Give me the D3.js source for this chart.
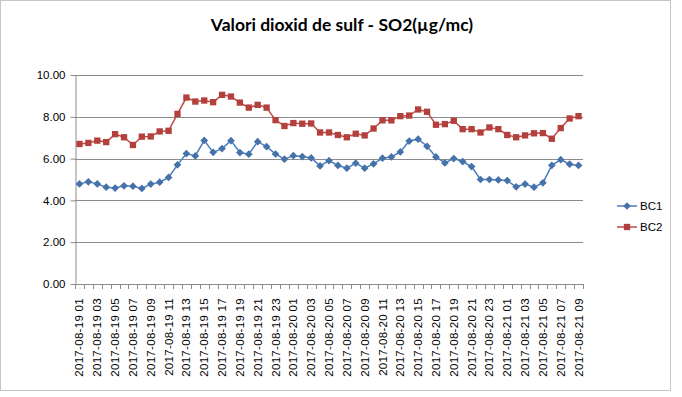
<!DOCTYPE html>
<html>
<head>
<meta charset="utf-8">
<script src="https://cdn.jsdelivr.net/npm/d3@7"></script>
<style>
body { margin: 0; background: #fff; }
svg text { font-family: "Liberation Sans", Arial, sans-serif; fill: #000; }
.title { font-family: Lato, "Open Sans", sans-serif; font-weight: bold; }
</style>
</head>
<body>
<div id="chart"></div>
<script>
// hourly categories, only every other one gets a label
var categories = [
    "2017-08-19 01", "2017-08-19 02", "2017-08-19 03", "2017-08-19 04", "2017-08-19 05", "2017-08-19 06",
    "2017-08-19 07", "2017-08-19 08", "2017-08-19 09", "2017-08-19 10", "2017-08-19 11", "2017-08-19 12",
    "2017-08-19 13", "2017-08-19 14", "2017-08-19 15", "2017-08-19 16", "2017-08-19 17", "2017-08-19 18",
    "2017-08-19 19", "2017-08-19 20", "2017-08-19 21", "2017-08-19 22", "2017-08-19 23", "2017-08-20 00",
    "2017-08-20 01", "2017-08-20 02", "2017-08-20 03", "2017-08-20 04", "2017-08-20 05", "2017-08-20 06",
    "2017-08-20 07", "2017-08-20 08", "2017-08-20 09", "2017-08-20 10", "2017-08-20 11", "2017-08-20 12",
    "2017-08-20 13", "2017-08-20 14", "2017-08-20 15", "2017-08-20 16", "2017-08-20 17", "2017-08-20 18",
    "2017-08-20 19", "2017-08-20 20", "2017-08-20 21", "2017-08-20 22", "2017-08-20 23", "2017-08-21 00",
    "2017-08-21 01", "2017-08-21 02", "2017-08-21 03", "2017-08-21 04", "2017-08-21 05", "2017-08-21 06",
    "2017-08-21 07", "2017-08-21 08", "2017-08-21 09"
];

var bc1 = [
    4.79, 4.89, 4.79, 4.63, 4.59, 4.70, 4.68, 4.57, 4.78, 4.87, 5.10, 5.70,
    6.24, 6.13, 6.87, 6.30, 6.48, 6.86, 6.29, 6.21, 6.81, 6.57, 6.22, 5.97,
    6.14, 6.10, 6.03, 5.65, 5.90, 5.67, 5.54, 5.78, 5.54, 5.75, 6.02, 6.08,
    6.32, 6.84, 6.93, 6.59, 6.08, 5.79, 6.00, 5.86, 5.62, 5.00, 5.00, 4.98,
    4.95, 4.65, 4.78, 4.63, 4.84, 5.68, 5.95, 5.73, 5.67
];

var bc2 = [
    6.70, 6.75, 6.86, 6.79, 7.17, 7.02, 6.65, 7.05, 7.06, 7.30, 7.33, 8.14,
    8.92, 8.73, 8.78, 8.70, 9.05, 8.97, 8.68, 8.44, 8.57, 8.44, 7.84, 7.56,
    7.70, 7.67, 7.68, 7.25, 7.25, 7.13, 7.02, 7.19, 7.11, 7.44, 7.83, 7.83,
    8.03, 8.06, 8.35, 8.24, 7.62, 7.65, 7.81, 7.41, 7.41, 7.25, 7.49, 7.41,
    7.13, 7.02, 7.11, 7.21, 7.22, 6.95, 7.46, 7.92, 8.03
];

var seriesNames = ["BC1", "BC2"];
var yTicks = [0, 2, 4, 6, 8, 10];

var W = 682,
    H = 397,
    plot = { left: 75, right: 583, top: 75, bottom: 284 },
    axisFont = "'Liberation Sans', Arial, sans-serif";

var svg = d3.select("#chart").append("svg")
    .attr("width", W)
    .attr("height", H);

// chart area border
svg.append("rect")
    .attr("x", 0.5)
    .attr("y", 0.5)
    .attr("width", 670)
    .attr("height", 390)
    .attr("fill", "#fff")
    .attr("stroke", "#c6c6c6");

svg.append("text")
    .attr("class", "title")
    .attr("x", 342)
    .attr("y", 31)
    .attr("text-anchor", "middle")
    .style("font-size", "17.5px")
    .text("Valori dioxid de sulf - SO2(µg/mc)");

var x = d3.scaleBand()
    .domain(categories)
    .range([plot.left, plot.right]);

var y = d3.scaleLinear()
    .domain([0, 10])
    .range([plot.bottom, plot.top]);

// gridlines
svg.append("g")
    .selectAll("line")
    .data(yTicks.filter(function(d) { return d > 0; }))
    .enter().append("line")
    .attr("x1", plot.left)
    .attr("x2", plot.right)
    .attr("y1", function(d) { return Math.round(y(d)) + 0.5; })
    .attr("y2", function(d) { return Math.round(y(d)) + 0.5; })
    .attr("stroke", "#8c8c8c");

// y axis
var yAxis = svg.append("g")
    .attr("transform", "translate(" + (plot.left + 0.5) + ",0)")
    .attr("font-family", axisFont)
    .call(d3.axisLeft(y)
        .tickValues(yTicks)
        .tickFormat(d3.format(".2f"))
        .tickSize(5)
        .tickSizeOuter(0)
        .tickPadding(5));
yAxis.attr("font-family", axisFont);
yAxis.selectAll("path, line").attr("stroke", "#8c8c8c");
yAxis.selectAll("text")
    .style("font-size", "11.5px")
    .style("font-family", axisFont)
    .attr("fill", "#000");

// x axis: line, ticks at category boundaries, rotated labels
var xg = svg.append("g");
xg.append("line")
    .attr("x1", plot.left)
    .attr("x2", plot.right)
    .attr("y1", Math.round(y(0)) + 0.5)
    .attr("y2", Math.round(y(0)) + 0.5)
    .attr("stroke", "#8c8c8c");

xg.selectAll(".tick")
    .data(categories.concat(["end"]))
    .enter().append("line")
    .attr("class", "tick")
    .attr("x1", function(d, i) { return Math.round(plot.left + i * x.step()) + 0.5; })
    .attr("x2", function(d, i) { return Math.round(plot.left + i * x.step()) + 0.5; })
    .attr("y1", y(0))
    .attr("y2", y(0) + 5)
    .attr("stroke", "#8c8c8c");

xg.selectAll(".lbl")
    .data(categories.filter(function(d, i) { return i % 2 == 0; }))
    .enter().append("text")
    .attr("class", "lbl")
    .attr("transform", function(d) {
        return "translate(" + (x(d) + x.bandwidth() / 2) + "," + (y(0) + 14) + ") rotate(-90)";
    })
    .attr("text-anchor", "end")
    .attr("dy", "0.35em")
    .style("font-size", "11.5px")
    .style("font-family", axisFont)
    .style("letter-spacing", "0.3px")
    .text(function(d) { return d; });

var colors = ["#4672aa", "#b3403d"],
    lineColors = ["#4a7ebb", "#be4b48"],
    symbols = [
        d3.symbol().type(d3.symbolSquare).size(30),
        d3.symbol().type(d3.symbolSquare).size(40)
    ],
    rotate = [45, 0];

[bc1, bc2].forEach(function(values, s) {
    var line = d3.line()
        .x(function(d, i) { return x(categories[i]) + x.bandwidth() / 2; })
        .y(function(d) { return y(d); });

    svg.append("path")
        .datum(values)
        .attr("fill", "none")
        .attr("stroke", lineColors[s])
        .attr("stroke-width", 1.5)
        .attr("d", line);

    svg.append("g")
        .selectAll("path")
        .data(values)
        .enter().append("path")
        .attr("transform", function(d, i) {
            return "translate(" + (x(categories[i]) + x.bandwidth() / 2) + "," + y(d) + ") rotate(" + rotate[s] + ")";
        })
        .attr("d", symbols[s])
        .attr("fill", colors[s]);
});

// legend
var legend = svg.append("g")
    .selectAll("g")
    .data(seriesNames)
    .enter().append("g")
    .attr("transform", function(d, i) { return "translate(617," + (206 + i * 21) + ")"; });

legend.append("line")
    .attr("x1", 0)
    .attr("x2", 20)
    .attr("stroke", function(d, i) { return lineColors[i]; })
    .attr("stroke-width", 1.5);

legend.append("path")
    .attr("transform", function(d, i) { return "translate(10,0) rotate(" + rotate[i] + ")"; })
    .attr("d", function(d, i) { return symbols[i](); })
    .attr("fill", function(d, i) { return colors[i]; });

legend.append("text")
    .attr("x", 23)
    .attr("dy", "0.35em")
    .style("font-size", "11.5px")
    .style("font-family", axisFont)
    .text(function(d) { return d; });
</script>
</body>
</html>
